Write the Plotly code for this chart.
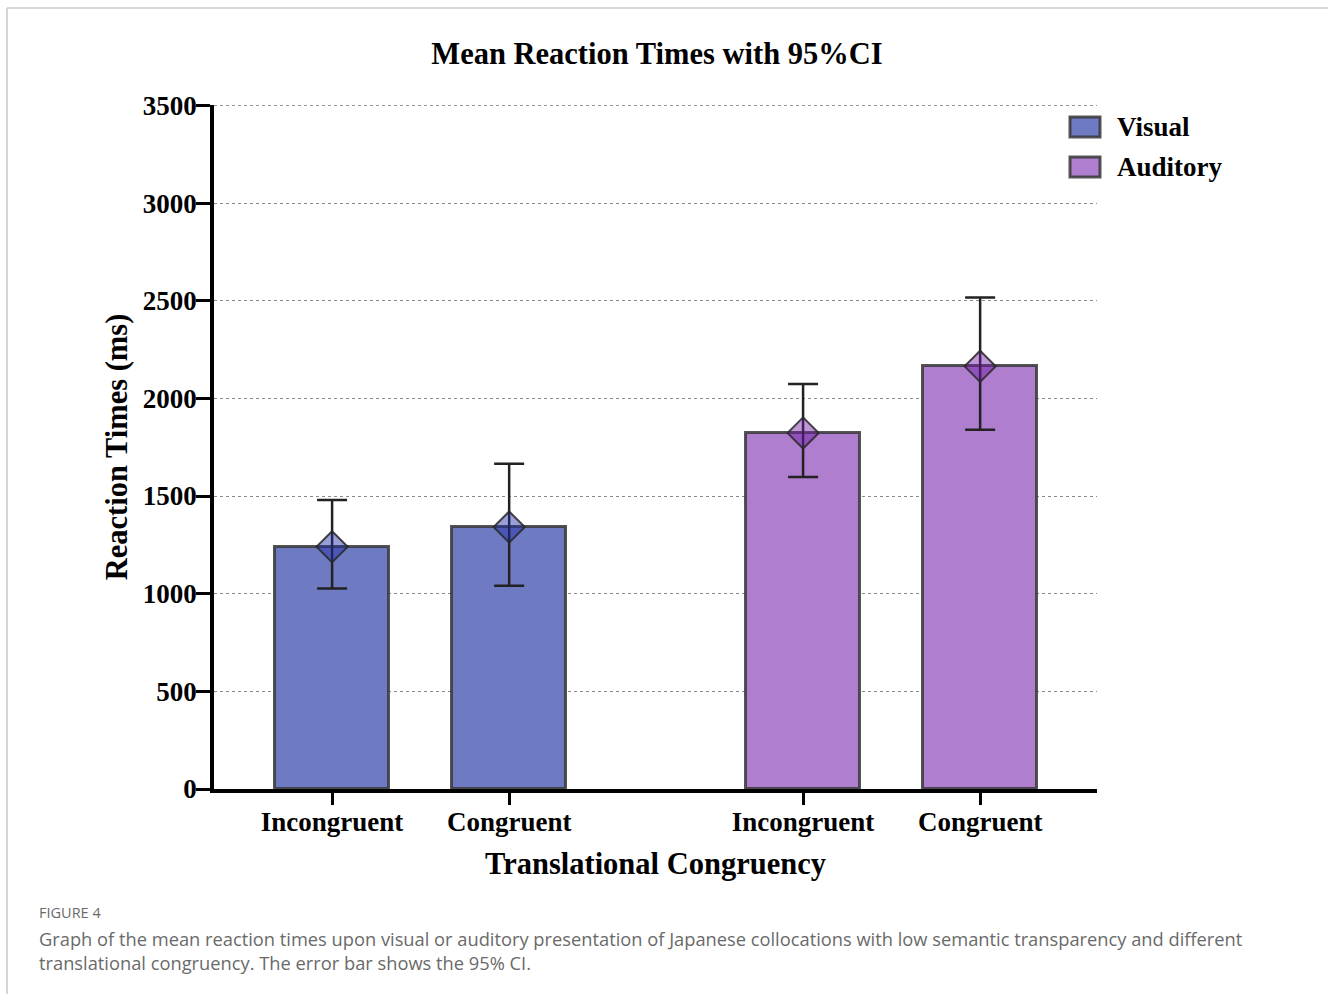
import plotly.graph_objects as go

# ---- data ----
modalities = ["Visual", "Auditory"]
conditions = ["Incongruent", "Congruent"]
visual_means = [1240, 1341]
auditory_means = [1823, 2164]
visual_ci_low = [1027, 1040]
visual_ci_high = [1480, 1665]
auditory_ci_low = [1597, 1839]
auditory_ci_high = [2074, 2516]
y_ticks = [0, 500, 1000, 1500, 2000, 2500, 3000, 3500]

# ---- styling ----
SERIF = "Liberation Serif"
SANS = "Open Sans"
fill_colors = {"Visual": "#6e7bc3", "Auditory": "#b07ecf"}
marker_colors = {"Visual": "rgba(30,45,165,0.45)", "Auditory": "rgba(110,25,165,0.45)"}
GROUP_GAP = 2.66

W, H = 1328, 994
L, R, T, B = 214, 1097, 105, 789


def px_to_paper_x(px):
    return (px - L) / (R - L)


def px_to_paper_y(py):
    return (B - py) / (B - T)


fig = go.Figure()

series = {
    "Visual": (visual_means, visual_ci_low, visual_ci_high),
    "Auditory": (auditory_means, auditory_ci_low, auditory_ci_high),
}

tickvals, ticktext = [], []
for g, mod in enumerate(modalities):
    means, lo, hi = series[mod]
    xs = [g * GROUP_GAP + i for i in range(len(conditions))]
    tickvals += xs
    ticktext += conditions
    fig.add_trace(go.Bar(
        x=xs, y=means, width=0.645, name=mod,
        marker=dict(color=fill_colors[mod],
                    line=dict(color="rgba(55,55,55,0.85)", width=3)),
        showlegend=False, hoverinfo="skip",
    ))
    fig.add_trace(go.Scatter(
        x=xs, y=means, mode="markers", showlegend=False,
        marker=dict(symbol="diamond", size=24, color=marker_colors[mod],
                    line=dict(color="rgba(40,40,40,0.85)", width=2)),
        error_y=dict(type="data", symmetric=False,
                     array=[h - m for h, m in zip(hi, means)],
                     arrayminus=[m - l for m, l in zip(means, lo)],
                     color="#222222", thickness=2.5, width=15),
    ))

fig.update_layout(
    width=W, height=H,
    margin=dict(l=L, r=W - R, t=T, b=H - B),
    paper_bgcolor="white", plot_bgcolor="white",
    bargap=0,
    title=dict(text="Mean Reaction Times with 95%CI", x=657 / W, xanchor="center",
               y=1 - 53 / H, yanchor="middle",
               font=dict(family=SERIF, size=30.5, color="black", weight="bold")),
    showlegend=False,
)

fig.update_xaxes(
    range=[-0.667, 4.32], tickvals=tickvals, ticktext=ticktext,
    showline=True, linecolor="black", linewidth=3.5, mirror=False,
    ticks="outside", ticklen=12, tickwidth=3, tickcolor="black",
    ticklabelstandoff=-6,
    showgrid=False, zeroline=False,
    tickfont=dict(family=SERIF, size=27, color="black", weight="bold"),
    title=dict(text="Translational Congruency", standoff=17,
               font=dict(family=SERIF, size=30.5, color="black", weight="bold")),
)
fig.update_yaxes(
    range=[0, 3502], tickvals=y_ticks,
    showline=True, linecolor="black", linewidth=3.5,
    ticks="outside", ticklen=14, tickwidth=3, tickcolor="black",
    ticklabelstandoff=-6,
    showgrid=True, gridcolor="#8a8a8a", gridwidth=1, griddash="dot",
    zeroline=False,
    tickfont=dict(family=SERIF, size=27, color="black", weight="bold"),
    title=dict(text="Reaction Times (ms)", standoff=7,
               font=dict(family=SERIF, size=30.5, color="black", weight="bold")),
)

# top gridline (plotly omits the one at the plot edge)
fig.add_shape(type="line", xref="paper", yref="y", x0=0, x1=1,
              y0=y_ticks[-1], y1=y_ticks[-1], layer="below",
              line=dict(color="#8a8a8a", width=1, dash="dot"))

# ---- manual legend ----
for k, (mod, yc) in enumerate(zip(modalities, [127, 167])):
    fig.add_shape(type="rect", xref="paper", yref="paper",
                  x0=px_to_paper_x(1070), x1=px_to_paper_x(1100),
                  y0=px_to_paper_y(yc - 10), y1=px_to_paper_y(yc + 10),
                  fillcolor=fill_colors[mod],
                  line=dict(color="rgba(55,55,55,0.85)", width=3))
    fig.add_annotation(xref="paper", yref="paper",
                       x=px_to_paper_x(1115), y=px_to_paper_y(yc),
                       xanchor="left", yanchor="middle", showarrow=False,
                       text=mod, font=dict(family=SERIF, size=27, color="black", weight="bold"))

# ---- frame lines ----
fig.add_shape(type="line", xref="paper", yref="paper",
              x0=px_to_paper_x(7), x1=px_to_paper_x(1330),
              y0=px_to_paper_y(8), y1=px_to_paper_y(8),
              line=dict(color="#c8c8c8", width=1.5))
fig.add_shape(type="line", xref="paper", yref="paper",
              x0=px_to_paper_x(7), x1=px_to_paper_x(7),
              y0=px_to_paper_y(8), y1=px_to_paper_y(1000),
              line=dict(color="#c8c8c8", width=1.5))

# ---- caption ----
fig.add_annotation(xref="paper", yref="paper", x=px_to_paper_x(37), y=px_to_paper_y(912),
                   xanchor="left", yanchor="middle", showarrow=False,
                   text="FIGURE 4", font=dict(family=SANS, size=14.5, color="#6a6a6a"))
fig.add_annotation(xref="paper", yref="paper", x=px_to_paper_x(37), y=px_to_paper_y(950),
                   xanchor="left", yanchor="middle", showarrow=False, align="left",
                   text="Graph of the mean reaction times upon visual or auditory presentation of Japanese collocations with low semantic transparency and different<br>translational congruency. The error bar shows the 95% CI.",
                   font=dict(family=SANS, size=18.3, color="#6a6a6a"))

fig.write_html("out.html", config={"displayModeBar": False},
               post_script="document.body.style.margin='0';document.body.style.padding='0';")
